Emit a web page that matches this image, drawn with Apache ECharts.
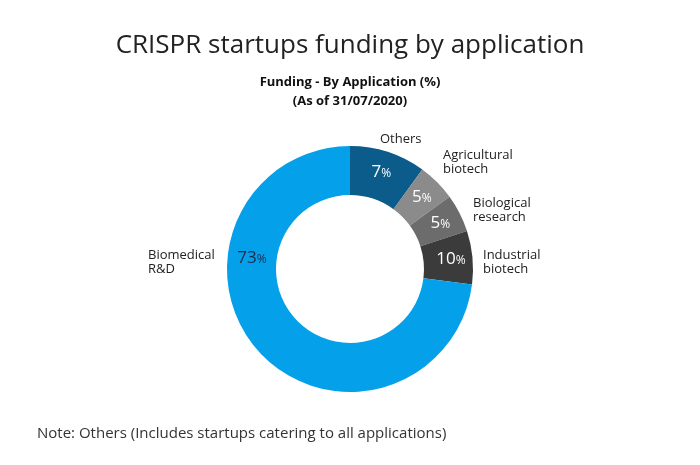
<!DOCTYPE html>
<html>
<head>
<meta charset="utf-8">
<script src="https://cdn.jsdelivr.net/npm/echarts@6/dist/echarts.min.js"></script>
<style>html,body{margin:0;padding:0;background:#fff;}#c{width:700px;height:465px;}</style>
</head>
<body>
<div id="c"></div>
<script>
const categories = ['Others', 'Agricultural\nbiotech', 'Biological\nresearch', 'Industrial\nbiotech', 'Biomedical\nR&D'];
// slice sizes as drawn in the reference (angles)
const sliceShares = [10, 5, 5, 7, 73];
// percentages as printed on the slices
const labelPercents = [7, 5, 5, 10, 73];
const colors = ['#0b5b8b', '#8b8b8b', '#6c6c6c', '#3b3b3b', '#05a0ea'];
const insideTextColors = ['#ffffff', '#ffffff', '#ffffff', '#ffffff', '#1c2b4a'];
// label anchor positions (text placement, left-aligned)
const outsideLabelPos = [[380, 139], [443, 162], [473, 210], [483, 262], [148, 262]];

const FONT = 'Open Sans';
const chart = echarts.init(document.getElementById('c'));
const center = [350, 269];
const radius = [74, 123];

chart.setOption({
  backgroundColor: '#fff',
  animation: false,
  title: [
    { text: 'CRISPR startups funding by application', left: 'center', top: 28,
      textStyle: { fontFamily: FONT, fontSize: 26, fontWeight: 'normal', color: '#222' } },
    { text: 'Funding - By Application (%)\n(As of 31/07/2020)', left: 'center', top: 68,
      textStyle: { fontFamily: FONT, fontSize: 13, fontWeight: 'bold', color: '#111', lineHeight: 19 } },
    { text: 'Note: Others (Includes startups catering to all applications)', left: 32, top: 421,
      textStyle: { fontFamily: FONT, fontSize: 15, fontWeight: 'normal', color: '#333' } }
  ],
  series: [
    {
      type: 'pie', center: center, radius: radius, startAngle: 90, clockwise: true,
      avoidLabelOverlap: false, silent: true,
      data: sliceShares.map((v, i) => ({
        name: categories[i], value: v,
        itemStyle: { color: colors[i] },
        label: { color: insideTextColors[i] }
      })),
      label: {
        show: true, position: 'inside',
        formatter: p => '{n|' + labelPercents[p.dataIndex] + '}{p|%}',
        rich: {
          n: { fontFamily: FONT, fontSize: 17 },
          p: { fontFamily: FONT, fontSize: 12, padding: [3, 0, 0, 0] }
        }
      },
      labelLayout: p => p.dataIndex === 4 ? { x: 252, y: 258, align: 'center', verticalAlign: 'middle' } : {},
      labelLine: { show: false }
    },
    {
      type: 'pie', center: center, radius: radius, startAngle: 90, clockwise: true,
      avoidLabelOverlap: false, silent: true, z: 1,
      data: sliceShares.map((v, i) => ({ name: categories[i], value: v })),
      itemStyle: { color: 'rgba(0,0,0,0)' },
      label: {
        show: true, position: 'outside', formatter: '{b}',
        fontFamily: FONT, fontSize: 13, color: '#222', lineHeight: 14
      },
      labelLine: { show: false },
      labelLayout: p => ({ x: outsideLabelPos[p.dataIndex][0], y: outsideLabelPos[p.dataIndex][1], align: 'left', verticalAlign: 'middle' })
    }
  ]
});
</script>
</body>
</html>
